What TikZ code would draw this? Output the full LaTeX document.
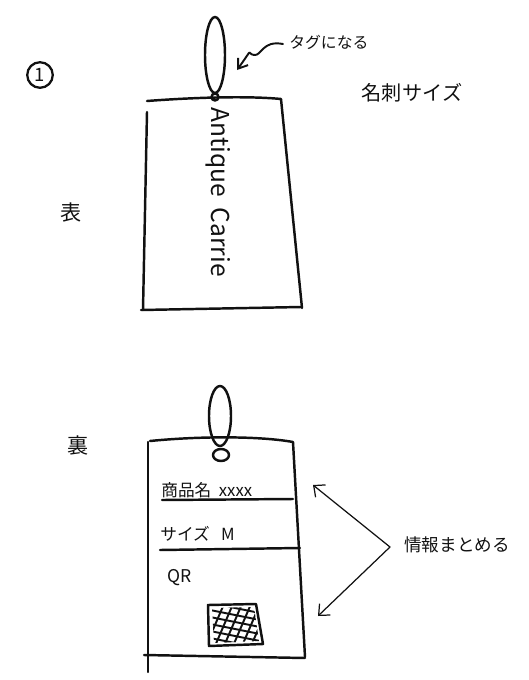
\documentclass[tikz,border=0pt]{standalone}
\usepackage{fontspec}
\setmainfont{Noto Sans CJK JP}
\newfontfamily\jpfont{Noto Sans CJK JP}
\usepackage{xcolor}
\usetikzlibrary{arrows.meta}
\definecolor{SkInk}{HTML}{111111}
\tikzset{
  ink/.style={SkInk,line width=1.4pt,line cap=round,line join=round},
  thin ink/.style={SkInk,line width=0.7pt,line cap=round},
  memo/.style={SkInk,inner sep=0pt,font=\jpfont\fontsize{9.5}{10}\selectfont},
}

\begin{document}
\begin{tikzpicture}[x=0.02cm,y=-0.02cm]
\path[use as bounding box] (0,0) rectangle (528,680);
% number
\node[memo,draw,circle,line width=1.3pt,inner sep=1.8pt,font=\jpfont\fontsize{10.5}{10}\selectfont] (num) at (40,75) {1};
% front
\draw[ink] (147,101) .. controls (200,97) and (250,96) .. (281,99) -- (302,308);
\draw[ink] (147,112) -- (143,310);
\draw[ink] (141,310) -- (301,307);
\draw[ink] (215,55) ellipse (10 and 38);
\draw[ink] (215,97) circle (3.5);
\node[memo,rotate=-90,font=\fontsize{14}{14}\selectfont] (brand) at (218,192) {Antique\ \ Carrie};
\node[memo,font=\jpfont\fontsize{12}{12}\selectfont] (front) at (71,212) {表};
\node[memo,anchor=west,font=\jpfont\fontsize{9}{9}\selectfont] (tagnote) at (289,42) {タグになる};
\node[memo,font=\jpfont\fontsize{11.5}{12}\selectfont] (cardsize) at (412,93) {名刺サイズ};
\coordinate (loopR) at (237,70);
\draw[ink,line width=1.1pt,-{Straight Barb[length=5pt,width=7pt]}] (tagnote.west) ++(-6,2) .. controls (262,40) and (262,56) .. (254,55) .. controls (246,54) and (255,45) .. (loopR);
% back
\draw[ink] (150,441) .. controls (200,436) and (260,436) .. (293,442) -- (305,657);
\draw[ink] (148,442) -- (148,672);
\draw[ink] (144,655) -- (305,658);
\draw[ink] (220,416) ellipse (11 and 30);
\draw[ink] (221,455) ellipse (8 and 6);
\node[memo,font=\jpfont\fontsize{12}{12}\selectfont] (back) at (78,445) {裏};
\node[memo,anchor=west] (item) at (161,490) {商品名\ \ xxxx};
\draw[ink] (162,500) -- (293,499);
\node[memo,anchor=west] (size) at (160,534) {サイズ\ \ \ M};
\draw[ink] (160,550) -- (300,548);
\node[memo,anchor=west,font=\fontsize{10}{10}\selectfont] (qr) at (167,578) {QR};
\draw[ink] (208,605) -- (256,604) -- (263,644) -- (209,646) -- cycle;
\begin{scope}
\clip (212,608) -- (254,607) -- (259,641) -- (214,643) -- cycle;
\foreach \k in {0,...,7} {
  \draw[ink,line width=1.1pt] (200+\k*9,660) -- (230+\k*9,590);
  \draw[ink,line width=1.1pt] (195,600+\k*7) -- (275,616+\k*7);
}
\end{scope}
% note on the right
\node[memo,anchor=west,font=\jpfont\fontsize{10}{10}\selectfont] (info) at (404,545) {情報まとめる};
\coordinate (fork) at (390,547);
\coordinate (itemR) at (313,485);
\coordinate (qrR) at (318,616);
\draw[thin ink,-{Straight Barb[length=5pt,width=9pt]}] (fork) -- (itemR);
\draw[thin ink,-{Straight Barb[length=5pt,width=9pt]}] (fork) -- (qrR);
\end{tikzpicture}
\end{document}
